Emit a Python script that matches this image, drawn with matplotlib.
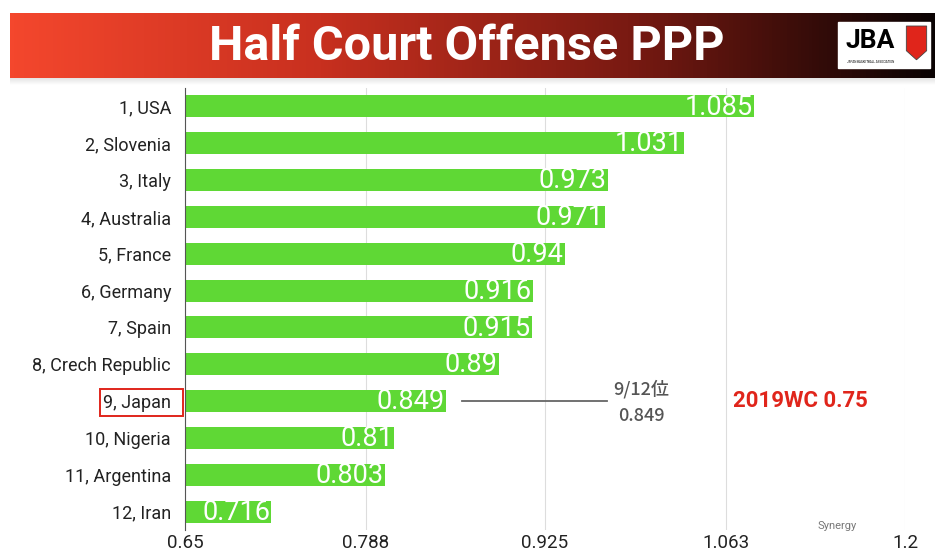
import matplotlib.pyplot as plt
import numpy as np
from matplotlib.patches import Rectangle, Polygon
from matplotlib.colors import LinearSegmentedColormap

plt.rcParams['font.family'] = ['Roboto', 'Noto Sans CJK JP', 'DejaVu Sans']

# dados
paises = ["1, USA", "2, Slovenia", "3, Italy", "4, Australia", "5, France",
          "6, Germany", "7, Spain", "8, Crech Republic", "9, Japan",
          "10, Nigeria", "11, Argentina", "12, Iran"]
ppp = [1.085, 1.031, 0.973, 0.971, 0.94, 0.916, 0.915, 0.89, 0.849,
       0.81, 0.803, 0.716]
rotulos = ["1.085", "1.031", "0.973", "0.971", "0.94", "0.916", "0.915",
           "0.89", "0.849", "0.81", "0.803", "0.716"]
xticks = [0.65, 0.788, 0.925, 1.063, 1.2]
xtick_labels = ["0.65", "0.788", "0.925", "1.063", "1.2"]

fig = plt.figure(figsize=(9.42, 5.54), dpi=100)

# sombra leve abaixo da faixa
sh = fig.add_axes([10 / 942, 1 - 85 / 554, 925 / 942, 7 / 554])
sh.imshow(np.linspace(0, 1, 64).reshape(-1, 1), aspect="auto",
          cmap=LinearSegmentedColormap.from_list("sh", ["#e4e4e4", "#ffffff"]),
          extent=[0, 1, 0, 1])
sh.axis("off")

# faixa do titulo (gradiente vermelho -> preto)
ban = fig.add_axes([10 / 942, 1 - 78 / 554, 925 / 942, 65 / 554])
grad = np.linspace(0, 1, 256).reshape(1, -1)
cmap = LinearSegmentedColormap.from_list("ban", ["#f4472d", "#c8301f", "#7a1a12", "#0a0303"])
ban.imshow(grad, aspect="auto", cmap=cmap, extent=[0, 1, 0, 1])
ban.set_xlim(0, 1)
ban.set_ylim(0, 1)
ban.axis("off")
ban.text(0.494, 0.47, "Half Court Offense PPP", color="white", fontsize=35,
         fontweight="bold", ha="center", va="center", family=["Roboto", "DejaVu Sans"])
# logo JBA
ban.add_patch(Rectangle((0.895, 0.15), 0.1, 0.71, color="white", zorder=3))
ban.text(0.930, 0.57, "JBA", color="black", fontsize=19, fontweight="bold",
         ha="center", va="center", zorder=4)
ban.text(0.930, 0.25, "JAPAN BASKETBALL ASSOCIATION", color="black", fontsize=2.2,
         ha="center", va="center", zorder=4)
ban.add_patch(Polygon([[0.969, 0.80], [0.991, 0.80], [0.991, 0.42], [0.980, 0.28], [0.969, 0.42]],
                      closed=True, facecolor="#e0251b", edgecolor="#444444", linewidth=0.6, zorder=4))

# eixo principal
ax = fig.add_axes([185 / 942, 24 / 554, 720 / 942, 442 / 554])
y = np.arange(len(paises))
ax.barh(y, [v - 0.65 for v in ppp], left=0.65, height=0.6, color="#5fd835", zorder=2)
for yi, v, r in zip(y, ppp, rotulos):
    ax.text(v - 0.001, yi + 0.02, r, color="white", fontsize=19.5, ha="right", va="center",
            fontweight="normal", zorder=3)

ax.set_xlim(0.65, 1.2)
ax.set_ylim(len(paises) - 0.5, -0.5)
ax.set_xticks(xticks)
ax.set_xticklabels(xtick_labels, fontsize=13.5, color="#222222")
ax.set_yticks(y)
ax.set_yticklabels(paises, fontsize=13, color="#222222")
ax.tick_params(axis="x", length=0, pad=3)
ax.tick_params(axis="y", length=0, pad=10)
ax.grid(axis="x", color="#dddddd", linewidth=0.8, zorder=0)
for s in ["top", "right", "bottom"]:
    ax.spines[s].set_visible(False)
ax.spines["left"].set_color("#555555")
ax.spines["left"].set_linewidth(0.8)

# destaque Japao
ax.add_patch(Rectangle((100 / 942, 1 - 416 / 554), 83 / 942, 27 / 554, transform=fig.transFigure,
                       fill=False, edgecolor="#e0251b", linewidth=1.4, clip_on=False))
ax.plot([0.8616, 0.972], [8, 8], color="#666666", linewidth=1.3, zorder=3)
ax.text(0.9985, 8.03, "9/12位\n0.849", color="#555555", fontsize=13, ha="center", va="center",
        fontweight="medium", linespacing=1.6, family=["Noto Sans CJK JP", "DejaVu Sans"])
ax.text(1.12, 8, "2019WC 0.75", color="#e0251b", fontsize=16, ha="center", va="center",
        fontweight="bold")
ax.text(1.148, 11.38, "Synergy", color="#777777", fontsize=8, ha="center", va="center")

fig.savefig("out.png", dpi=100)
